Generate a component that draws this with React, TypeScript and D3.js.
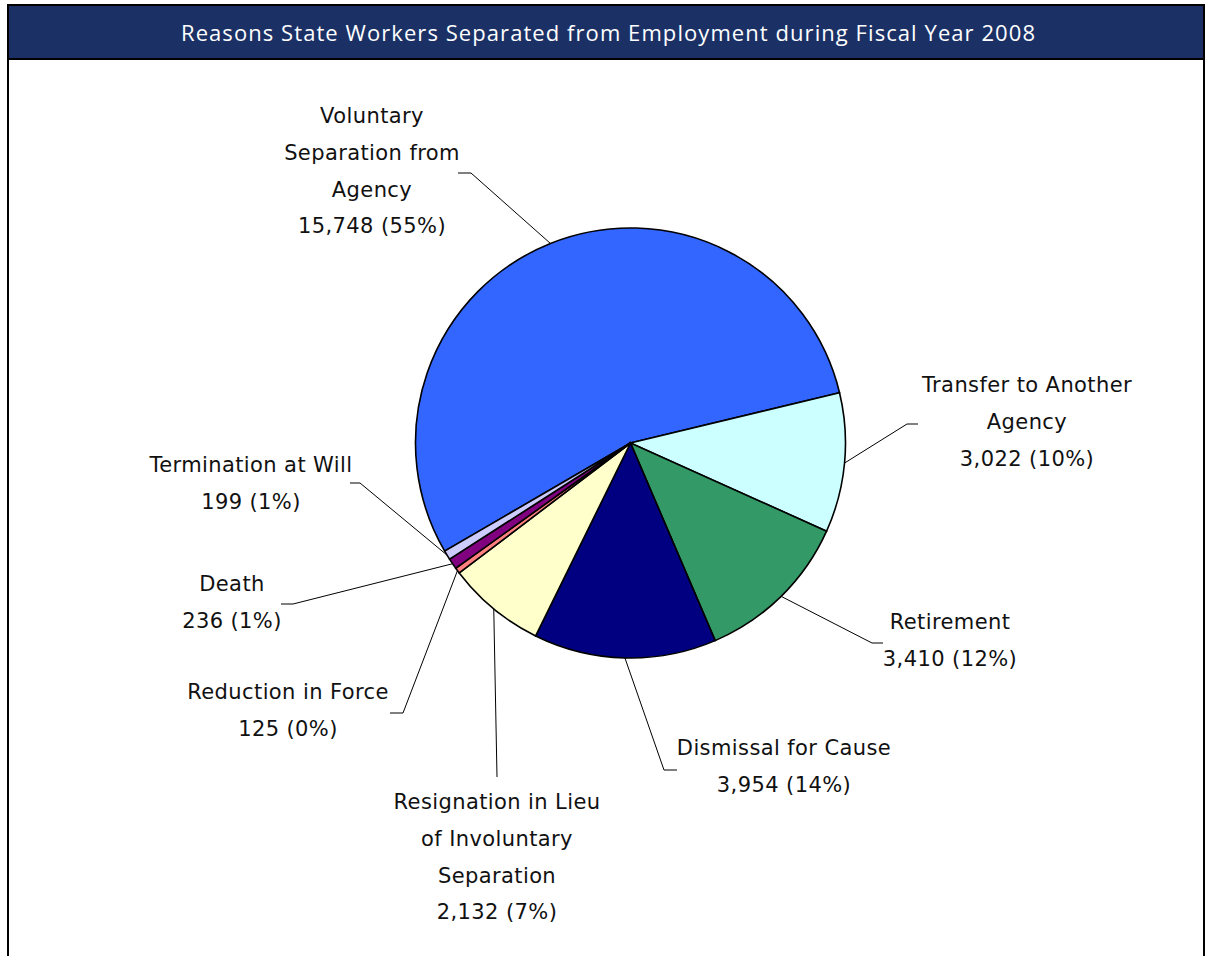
import React from "react";
import * as d3 from "d3";

const categories = [
  "Voluntary Separation from Agency",
  "Transfer to Another Agency",
  "Retirement",
  "Dismissal for Cause",
  "Resignation in Lieu of Involuntary Separation",
  "Reduction in Force",
  "Death",
  "Termination at Will",
];
const values = [15748, 3022, 3410, 3954, 2132, 125, 236, 199];
const percentLabels = ["55%", "10%", "12%", "14%", "7%", "0%", "1%", "1%"];
const colors = ["#3366FF", "#CCFFFF", "#339966", "#000080", "#FFFFCC", "#FF8080", "#800080", "#CCCCFF"];
// how each label wraps onto lines
const labelLines = [
  ["Voluntary", "Separation from", "Agency"],
  ["Transfer to Another", "Agency"],
  ["Retirement"],
  ["Dismissal for Cause"],
  ["Resignation in Lieu", "of Involuntary", "Separation"],
  ["Reduction in Force"],
  ["Death"],
  ["Termination at Will"],
];
const title = "Reasons State Workers Separated from Employment during Fiscal Year 2008";

// layout: label block center x, first-line center y, elbow point, horizontal end
const labelLayout = [
  { cx: 372, y0: 116, ex: 471, ey: 173, hx: 458 },
  { cx: 1027, y0: 385, ex: 907, ey: 424, hx: 918 },
  { cx: 950, y0: 622, ex: 872, ey: 643, hx: 883 },
  { cx: 784, y0: 748, ex: 664, ey: 770, hx: 677 },
  { cx: 497, y0: 802, ex: 497, ey: 777, hx: 497 },
  { cx: 288, y0: 692, ex: 403, ey: 713, hx: 390 },
  { cx: 232, y0: 584, ex: 293, ey: 604, hx: 281 },
  { cx: 251, y0: 465, ex: 360, ey: 483, hx: 350 },
];

const W = 1210;
const H = 956;
const cx = 630.5;
const cy = 443;
const R = 215;
const lineH = 36.8;
const fmt = d3.format(",");

export default function App() {
  const pie = d3
    .pie<number>()
    .sort(null)
    .value((d) => d)
    .startAngle((-120.2 * Math.PI) / 180)
    .endAngle((-120.2 * Math.PI) / 180 + 2 * Math.PI);
  const arcs = pie(values);
  const arc = d3.arc<d3.PieArcDatum<number>>().innerRadius(0).outerRadius(R);

  const font = "'DejaVu Sans', Verdana, sans-serif";

  return (
    <svg
      width={W}
      height={H}
      style={{ position: "absolute", left: 0, top: 0, background: "#fff" }}
    >
      <rect x={0} y={0} width={W} height={H} fill="#fff" />
      <rect x={8} y={5} width={1196} height={54} fill="#1B3166" />
      <line x1={8} y1={5} x2={1204} y2={5} stroke="#000" strokeWidth={2} />
      <line x1={8} y1={59} x2={1204} y2={59} stroke="#000" strokeWidth={2} />
      <line x1={8} y1={4} x2={8} y2={H} stroke="#000" strokeWidth={2} />
      <line x1={1204} y1={4} x2={1204} y2={H} stroke="#000" strokeWidth={2} />
      <text
        x={608}
        y={32}
        fill="#fff"
        fontFamily="'Open Sans', 'DejaVu Sans', sans-serif"
        fontSize={22}
        textAnchor="middle"
        dominantBaseline="central"
        textLength={854}
        lengthAdjust="spacing"
      >
        {title}
      </text>

      <g transform={`translate(${cx},${cy})`}>
        {arcs.map((a, i) => (
          <path key={i} d={arc(a) || ""} fill={colors[i]} stroke="#000" strokeWidth={1.6} />
        ))}
      </g>

      {arcs.map((a, i) => {
        const mid = (a.startAngle + a.endAngle) / 2;
        const sx = cx + Math.sin(mid) * R;
        const sy = cy - Math.cos(mid) * R;
        const L = labelLayout[i];
        const pts = `${sx},${sy} ${L.ex},${L.ey} ${L.hx},${L.ey}`;
        return (
          <polyline key={"l" + i} points={pts} fill="none" stroke="#000" strokeWidth={1} />
        );
      })}

      {arcs.map((a, i) => {
        const L = labelLayout[i];
        const lines = [...labelLines[i], `${fmt(values[i])} (${percentLabels[i]})`];
        return (
          <text
            key={"t" + i}
            fontFamily={font}
            fontSize={21}
            letterSpacing={0.4}
            fill="#111"
            textAnchor="middle"
            dominantBaseline="central"
          >
            {lines.map((s, j) => (
              <tspan key={j} x={L.cx} y={L.y0 + j * lineH}>
                {s}
              </tspan>
            ))}
          </text>
        );
      })}
    </svg>
  );
}
